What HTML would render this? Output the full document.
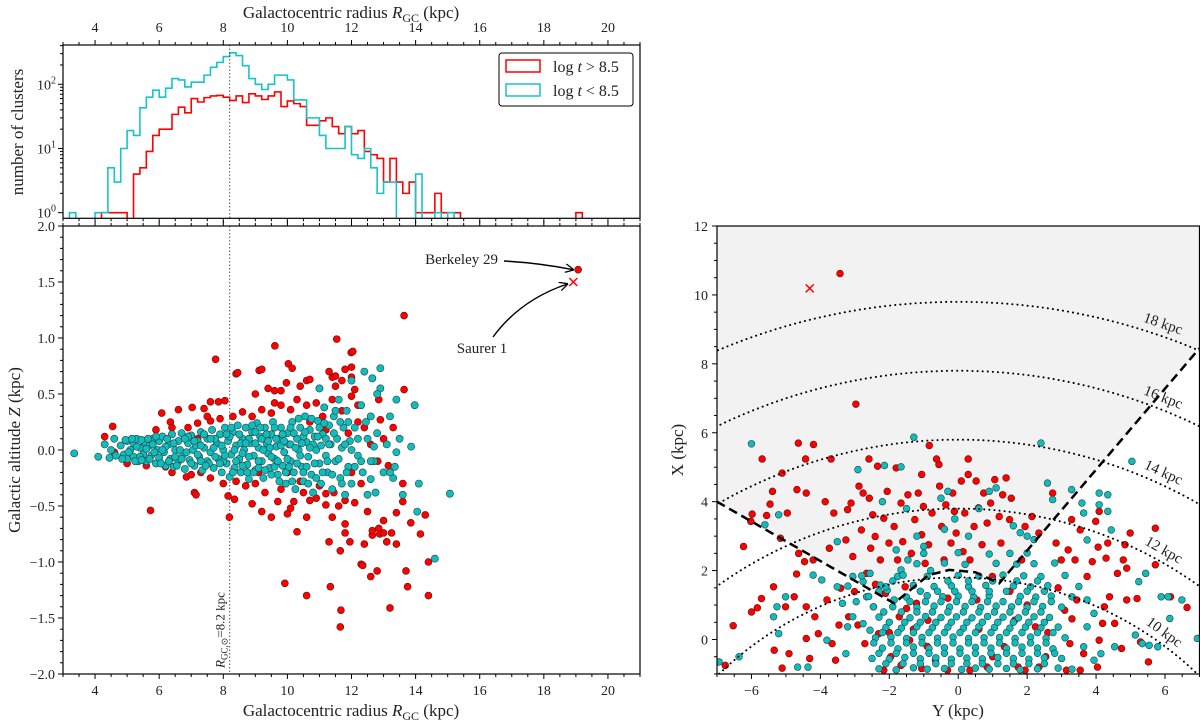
<!DOCTYPE html>
<html><head><meta charset="utf-8"><title>Open clusters</title>
<style>
html,body{margin:0;padding:0;background:#fff;}
svg{display:block;font-family:"Liberation Serif",serif;}
</style></head>
<body>
<svg id="fig" width="1200" height="722" viewBox="0 0 1200 722" xmlns="http://www.w3.org/2000/svg">
<defs>
<clipPath id="clipTop"><rect x="63" y="45" width="577" height="173.3"/></clipPath>
<clipPath id="clipLeft"><rect x="63" y="226" width="577" height="448"/></clipPath>
<clipPath id="clipRight"><rect x="717" y="226" width="482.5" height="448"/></clipPath>
<marker id="arrowHead" viewBox="0 0 10 10" refX="9" refY="5" markerWidth="9" markerHeight="9" orient="auto-start-reverse" markerUnits="userSpaceOnUse"><path d="M0,0 L10,5 L0,10" fill="none" stroke="#000" stroke-width="1.4"/></marker>
</defs>
</svg>
<script>
// ---------------- DATA ----------------
const binWidth = 0.2;
const redHistStart = 4.2;
const redHistCounts = [1,1,1,1,0,4,5,9,16,20,20,34,44,36,60,53,62,66,67,63,56,66,52,71,66,58,66,76,45,55,50,45,23,23,27,30,22,17,22,17,19,9,8,7,3,7,3,2,3,1,1,1,2,1,1,1,0,0,0,0,0,0,0,0,0,0,0,0,0,0,0,0,0,0,1];
const cyanHistStart = 3.2;
const cyanHistCounts = [1,0,0,0,1,1,5,3,10,19,16,43,63,81,63,87,123,117,91,108,108,139,184,219,270,309,280,195,123,100,83,100,139,139,117,57,57,30,30,16,10,10,10,22,8,7,10,5,2,3,3,0,0,0,4,0,0,1,0,1];
const rTicks = [4,6,8,10,12,14,16,18,20];
const zTicks = [2.0,1.5,1.0,0.5,0.0,-0.5,-1.0,-1.5,-2.0];
const countTicks = [1,10,100];
const rightYTicks = [-6,-4,-2,0,2,4,6];
const rightXTicks = [0,2,4,6,8,10,12];
const sunR = 8.2;
const arcRadii = [10,12,14,16,18];
const berkeley29 = [19.07,1.61];
const saurer1 = [18.92,1.50];
const saurer1XY = [-4.31,10.19];
const wedge = [[-7,4],[-1.86,1.05],[-0.86,1.87],[-0.26,2.02],[0.5,1.95],[1.19,1.63],[7,8.45]];

const leftRed = [[7.76,0.81],[9.61,0.93],[11.54,0.99],[8.4,0.68],[8.45,0.69],[9.12,0.71],[9.2,0.72],[10.03,0.77],[10.15,0.73],[11.99,0.87],[11.8,0.72],[12.0,0.74],[9.97,0.6],[10.6,0.62],[10.7,0.63],[10.4,0.57],[6.08,0.33],[6.6,0.36],[7.03,0.38],[4.55,0.21],[4.3,0.12],[9.0,0.5],[9.4,0.55],[9.6,0.53],[9.8,0.53],[11.0,0.55],[11.4,0.65],[11.5,0.66],[11.7,0.62],[12.1,0.54],[11.3,0.7],[7.4,0.37],[7.6,0.43],[7.85,0.43],[8.05,0.44],[6.35,0.25],[7.6,0.26],[13.64,1.2],[12.04,0.88],[12.0,0.65],[13.64,0.54],[11.5,0.57],[12.0,0.48],[12.85,0.45],[12.9,0.27],[12.82,-0.1],[13.15,-0.14],
[5.73,-0.54],[8.19,-0.6],[9.92,-1.19],[10.6,-1.3],[11.34,-1.22],[11.67,-1.43],[11.65,-1.58],[13.2,-1.41],[11.65,-0.9],[11.3,-0.82],[11.8,-0.66],[11.8,-0.74],[11.95,-0.82],[12.3,-1.02],[12.35,-1.03],[12.6,-1.13],[12.8,-1.08],[12.4,-0.84],[12.65,-0.76],[12.65,-0.72],[12.85,-0.7],[12.88,-0.75],[13.0,-0.63],[13.0,-0.74],[13.1,-0.82],[13.4,-0.56],[13.4,-0.84],[13.25,-0.74],[13.6,-0.46],[13.7,-1.08],[13.75,-1.22],[13.85,-0.65],[14.15,-0.75],[14.3,-0.58],[14.4,-1.3],[14.4,-1.0],[10.3,-0.73],[9.7,-0.46],[9.5,-0.6],[10.0,-0.57],[10.1,-0.52],[10.2,-0.46],[10.5,-0.38],[10.9,-0.43],[11.2,-0.49],[11.2,-0.39],[11.45,-0.38],[11.8,-0.45],[12.1,-0.47],[7.1,-0.38],[7.15,-0.4],[8.15,-0.41],[8.35,-0.44],[6.4,-0.2],[6.85,-0.24],[7.0,-0.22],
[6.9,0.2],[7.2,0.24],[7.9,0.28],[8.3,0.3],[8.6,0.34],[8.9,0.3],[9.2,0.36],[9.5,0.33],[9.8,0.4],[10.1,0.36],[10.3,0.45],[10.6,0.4],[10.9,0.42],[11.1,0.3],[11.4,0.45],[11.7,0.35],[12.2,0.4],[12.4,0.2],[12.6,0.05],[12.3,-0.3],[12.0,-0.2],[11.6,-0.5],[11.0,-0.32],[10.7,-0.45],[10.4,-0.28],[9.8,-0.35],[9.3,-0.38],[9.0,-0.3],[8.7,-0.32],[8.4,-0.28],[8.0,-0.3],[7.6,-0.25],[7.3,-0.2],[6.2,-0.15],[5.6,-0.14],[5.0,-0.12],[4.6,-0.02],[5.9,0.18],[6.4,0.2],[7.5,0.3],[13.3,0.2],[13.0,0.1],[13.6,-0.3],[12.5,-0.55],[10.0,-0.2],[9.1,-0.2],[10.7,0.25],[11.2,0.18],[11.9,0.15],[8.9,-0.48],[9.2,-0.55],[10.6,-0.6],[11.4,-0.6],[12.2,0.25],[7.2,0.1],[9.6,0.42],[19.07,1.61]];

const leftCyan = [[3.35,-0.03],[4.1,-0.06],[4.3,0.05],[4.45,-0.07],[4.6,0.1],[4.65,-0.05],[4.5,0.0],
[4.8,0.04],[4.9,-0.04],[5.0,0.08],[5.0,-0.08],[5.1,0.0],[5.2,0.06],[5.2,-0.06],[5.3,0.1],[5.35,-0.1],[5.4,0.02],[5.5,-0.04],[5.55,0.07],[5.6,-0.1],[5.7,0.04],[5.75,-0.05],[5.8,0.1],[5.9,-0.12],[5.95,0.0],[6.0,0.08],[6.0,-0.07],
[6.1,0.12],[6.15,-0.02],[6.2,-0.14],[6.3,0.05],[6.35,-0.08],[6.4,0.14],[6.45,-0.15],[6.5,0.0],[6.6,0.08],[6.6,-0.1],[6.7,0.15],[6.75,-0.04],[6.8,-0.17],[6.9,0.06],[6.95,-0.09],[7.0,0.13],[7.05,0.0],[7.1,-0.14],[7.2,0.08],[7.25,-0.06],[7.3,0.16],[7.35,-0.18],[7.4,0.02],[7.5,0.1],[7.5,-0.1],[7.6,-0.02],[7.65,0.18],[7.7,-0.16],[7.8,0.06],[7.85,-0.08],[7.9,0.14],[7.95,-0.2],[8.0,0.0],
[8.05,0.2],[8.1,-0.12],[8.15,0.08],[8.2,-0.24],[8.25,-0.04],[8.3,0.16],[8.35,-0.16],[8.4,0.04],[8.45,0.22],[8.5,-0.08],[8.55,-0.2],[8.6,0.1],[8.65,0.0],[8.7,0.2],[8.75,-0.13],[8.8,-0.26],[8.85,0.06],[8.9,0.16],[8.95,-0.05],[9.0,-0.18],[9.05,0.24],[9.1,0.02],[9.15,0.12],[9.2,-0.1],[9.25,-0.25],[9.3,0.2],[9.35,0.06],[9.4,-0.03],[9.45,-0.16],[9.5,0.14],[9.55,0.25],[9.6,-0.08],[9.65,0.03],[9.7,-0.22],[9.75,0.1],[9.8,0.2],[9.85,-0.14],[9.9,-0.02],[9.95,-0.3],[10.0,0.15],
[10.05,0.05],[10.1,-0.1],[10.15,0.25],[10.2,-0.2],[10.25,-0.35],[10.3,0.1],[10.35,0.0],[10.4,0.2],[10.45,-0.15],[10.5,-0.28],[10.55,0.3],[10.6,0.07],[10.65,-0.06],[10.7,0.18],[10.75,-0.22],[10.8,-0.38],[10.85,0.12],[10.9,0.0],[10.95,0.26],[11.0,-0.12],[11.05,-0.3],[11.1,0.14],[11.15,0.38],[11.2,-0.05],[11.25,-0.2],[11.3,0.22],[11.35,0.05],[11.4,-0.35],[11.45,0.3],[11.5,-0.1],[11.55,0.1],[11.6,0.45],[11.65,-0.25],[11.7,0.02],[11.75,0.2],[11.8,-0.4],[11.85,0.35],[11.9,-0.15],[11.95,0.08],[12.0,-0.3],
[12.1,0.2],[12.2,-0.05],[12.3,0.4],[12.35,-0.2],[12.5,0.1],[12.5,-0.4],[12.6,0.3],[12.7,-0.1],[12.8,0.15],[12.9,0.55],[13.0,-0.2],[13.1,0.05],[13.2,0.3],[13.3,-0.25],[13.4,0.45],[13.5,0.1],[13.6,-0.4],[13.4,-0.02],[12.0,0.62],[11.0,0.55],[12.75,-0.38],[13.35,-0.15],
[12.4,0.7],[12.9,0.73],[12.65,0.64],[13.97,0.4],[13.86,0.03],[12.7,0.03],[12.8,0.5],[14.1,-0.3],[14.05,-0.55],[14.6,-0.97],[15.07,-0.39],[12.6,-0.26],[13.2,-0.2],
[7.15,0.04],[7.55,-0.12],[7.75,0.1],[8.0,-0.1],[8.2,0.12],[8.4,-0.1],[8.6,-0.03],[8.8,0.1],[9.0,0.06],[9.2,0.1],[9.4,0.08],[9.6,-0.15],[9.8,0.04],[10.0,-0.08],[10.2,0.15],[10.4,-0.05],[10.6,-0.15],[10.8,0.05],[11.0,0.2],[11.2,0.1],[6.5,-0.06],[6.9,0.12],[7.3,-0.1],[5.4,-0.06],[5.8,0.05],[6.2,0.03],[9.1,-0.1],[9.5,-0.06],[10.1,0.05],[10.5,0.12],
[4.85,-0.08],[4.95,0.09],[5.05,-0.02],[5.15,0.1],[5.25,-0.1],[5.3,0.03],[5.45,0.09],[5.45,-0.09],[5.6,0.01],[5.65,0.1],[5.7,-0.08],[5.85,-0.02],[5.9,0.12],[6.05,-0.12],
[6.1,0.0],[6.25,0.1],[6.3,-0.1],[6.45,0.06],[6.55,-0.14],[6.65,0.0],[6.7,-0.08],[6.8,0.1],[6.85,-0.02],[7.0,-0.12],[7.1,0.08],[7.2,-0.04],[7.3,0.04],[7.4,0.14],[7.45,-0.14],[7.6,0.1],[7.7,0.02],[7.75,-0.06],[7.9,-0.12],[7.95,0.04],
[8.05,-0.05],[8.1,0.14],[8.25,0.2],[8.3,-0.2],[8.35,0.0],[8.5,0.14],[8.55,0.06],[8.6,-0.14],[8.7,0.06],[8.75,-0.2],[8.8,-0.06],[8.9,0.22],[8.95,-0.2],[9.0,0.16],[9.1,-0.16],[9.15,0.2],[9.25,0.0],[9.3,-0.18],[9.35,0.14],[9.45,0.02],[9.5,-0.22],[9.6,0.2],[9.65,0.1],[9.7,-0.1],[9.75,-0.28],[9.85,0.14],[9.9,0.08],[9.95,-0.2],
[10.05,-0.15],[10.1,0.2],[10.15,-0.28],[10.25,0.02],[10.3,-0.12],[10.35,0.28],[10.45,0.06],[10.5,-0.2],[10.55,0.16],[10.65,-0.3],[10.7,0.02],[10.75,0.28],[10.85,-0.12],[10.9,-0.25],[10.95,0.12],[11.05,0.04],[11.1,-0.2],[11.15,0.24],[11.25,-0.1],[11.3,0.05],[11.4,-0.22],[11.45,0.15],[11.5,0.35],[11.6,-0.08],[11.65,0.25],[11.7,-0.3],[11.8,0.05],[11.85,-0.2],[11.9,0.25],[12.0,0.0],[12.1,-0.15],[12.2,0.1],[12.3,-0.1],[12.45,0.25],[12.6,-0.1]];

// right panel: [Y, X] in kpc
const rightRed = [[-3.43,10.62],[-2.97,6.83],[-4.64,5.7],[-4.2,5.66],[-0.84,5.63],[-5.69,5.24],[-4.43,5.24],[-3.69,5.24],[-2.59,5.24],[-0.63,5.24],[0.29,5.24],
[-6.76,-0.75],[-6.53,0.4],[-6.23,2.7],[-5.98,3.64],[-6.02,3.43],[-6.0,0.8],[-5.83,0.92],[-5.71,1.19],[-5.56,3.6],[-5.46,3.93],[-5.39,4.3],[-5.36,1.53],[-5.34,-0.31],[-5.16,2.94],[-5.11,4.83],[-5.11,-0.83],[-5.01,0.95],[-4.96,3.67],[-4.91,-0.41],[-4.76,1.24],[-4.68,4.35],[-4.69,1.9],[-4.63,2.5],[-4.46,2.26],[-4.41,4.25],[-4.41,0.95],[-4.41,0.03],[-4.31,-0.55],[-4.21,2.31],[-4.16,0.66],[-4.06,0.17],[-3.86,4.0],[-3.81,1.15],[-3.74,2.65],[-3.66,-0.12],[-3.61,3.67],[-3.56,-0.6],[-3.46,0.42],[-3.41,1.49],[-3.26,2.89],[-3.21,3.77],[-3.18,0.66],[-3.11,3.96],[-3.06,2.41],[-3.01,1.39],[-2.91,0.42],[-2.88,4.45],[-2.81,3.18],[-2.76,4.25],[-2.71,-0.12],[-2.66,1.92],[-2.58,4.1],[-2.54,2.65],[-2.48,3.62],[-2.46,0.95],[-2.41,2.99],[-2.34,5.03],[-2.31,0.17],[-2.26,2.31],[-2.16,3.52],[-2.11,1.34],[-2.06,4.3],[-2.01,2.8],[-1.96,-0.5],[-1.86,3.28],[-1.8,4.98],[-1.76,2.31],[-1.71,0.66],[-1.66,3.96],[-1.61,2.84],[-1.54,1.53],[-1.46,4.2],[-1.41,-0.02],[-1.36,2.5],[-1.26,3.48],[-1.21,1.05],[-1.16,4.25],[-1.06,4.79],[-1.06,3.04],[-1.01,3.86],[-0.96,2.21],[-0.88,0.56],[-0.86,2.75],[-0.76,3.67],[-0.66,-0.6],[-0.56,5.08],[-0.54,4.45],[-0.48,3.28],[-0.41,2.31],[-0.36,3.91],[-0.31,-0.89],[-0.21,2.8],[-0.16,4.25],[-0.11,3.72],[-0.06,3.09],[0.09,4.6],[0.14,2.55],[0.19,3.67],[0.29,4.79],[0.34,2.31],[0.46,3.28],[0.52,4.6],[0.54,1.15],[0.59,3.82],[0.69,2.75],[0.74,4.25],[0.84,3.38],[0.94,3.96],[0.99,1.83],[1.06,4.64],[1.19,3.57],[1.24,2.8],[1.29,4.2],[1.34,-0.21],[1.39,4.69],[1.49,3.48],[1.54,4.1],[1.64,0.56],[1.74,-0.8],[1.84,2.31],[1.94,3.28],[2.14,3.57],[2.24,0.37],[2.34,3.09],[2.54,-0.5],[2.74,4.25],[2.84,2.8],[2.99,2.31],[3.09,0.85],[3.19,2.6],[3.24,-0.12],[3.29,3.48],[3.39,2.31],[3.44,1.15],[3.54,3.18],[3.64,-0.41],[3.74,1.83],[3.89,2.26],[3.99,3.43],[4.04,-0.8],[4.06,2.68],[4.09,3.72],[4.19,0.47],[4.24,0.95],[4.29,2.36],[4.34,2.8],[4.39,1.24],[4.54,0.47],[4.62,1.92],[4.74,-0.26],[4.79,2.31],[4.84,2.75],[4.89,2.07],[4.99,3.09],[4.89,1.15],[5.19,1.19],[5.29,-0.07],[5.52,-0.65],[5.72,3.23],[5.72,2.17],[6.16,1.24],[6.64,0.93],[4.09,-0.02],
[-2.16,-0.89],[-1.66,-0.75],[-1.06,-0.84],[0.34,-0.89],[0.84,-0.8],[1.94,-0.89],[2.34,-0.8],[3.14,-0.89],[3.54,-0.89],[-1.3,0.3],[-0.9,-0.2],[-2.0,0.2],[-1.5,0.9],[2.0,1.0],[2.6,0.2],[1.0,-0.5],[-0.3,1.2],[0.6,0.3],[1.5,1.4],[-2.4,1.6],[2.9,1.5],[3.3,0.6]];

const rightCyan = [[-6.0,5.68],[-1.29,5.87],[2.4,5.7],
[-2.91,4.93],[-2.14,5.05],[-1.66,5.01],[-5.61,3.33],[-5.21,3.62],[-3.51,2.84],[-6.94,-0.65],[-6.36,-0.5],[-5.36,0.66],[-5.26,0.95],[-5.01,1.24],[-5.21,0.17],[-4.66,-0.8],[-4.36,-0.8],[-4.21,1.87],[-3.96,1.73],[-3.81,-0.02],[-3.51,1.53],[-3.36,1.05],[-3.26,-0.41],[2.59,4.54],[2.74,4.06],[3.29,4.35],[3.59,3.96],[3.64,3.67],[3.74,2.89],[4.09,4.25],[4.34,4.2],[4.34,3.72],[4.44,3.18],[4.09,3.91],[5.04,5.17],[5.24,1.68],[5.44,1.92],[5.14,0.13],[5.34,-0.12],[5.54,-0.17],[5.79,-0.21],[5.89,1.24],[6.09,1.24],[6.14,0.61],[6.49,1.15],[6.94,0.03],[3.74,1.15],[3.94,0.76],[3.74,0.37],[3.64,-0.21],[3.94,-0.6],[4.14,-0.41],[4.54,-0.21],
[-3.06,1.83],[-2.76,1.68],[-2.56,1.92],[-2.26,1.58],[-2.06,1.43],[-2.66,1.24],[-2.96,1.1],[-2.46,0.95],[-2.16,0.8],[-3.06,0.66],[-2.76,0.46],[-3.21,0.37],[-2.56,0.27],[-1.86,1.15],[-1.66,2.02],[-1.46,2.31],[-1.76,1.83],
[-2.3,-0.85],[-1.8,-0.88],[-1.3,-0.82],[-0.9,-0.86],[-0.4,-0.84],[0.1,-0.87],[0.5,-0.83],[0.9,-0.86],[1.4,-0.84],[1.8,-0.88],[2.3,-0.85],[2.9,-0.83],[3.3,-0.86],
[-2.5,-0.55],[-2.0,-0.57],[-1.55,-0.52],[-1.1,-0.56],[-0.65,-0.53],[-0.2,-0.57],[0.25,-0.54],[0.7,-0.56],[1.15,-0.52],[1.6,-0.55],[2.05,-0.57],[2.5,-0.53],[3.0,-0.55],
[-2.2,-0.25],[-1.75,-0.27],[-1.3,-0.22],[-0.85,-0.26],[-0.4,-0.24],[0.05,-0.27],[0.5,-0.23],[0.95,-0.25],[1.4,-0.26],[1.85,-0.22],[2.3,-0.25],[2.75,-0.27],
[-2.4,0.05],[-1.95,0.07],[-1.5,0.03],[-1.05,0.06],[-0.6,0.04],[-0.15,0.07],[0.3,0.03],[0.75,0.05],[1.2,0.06],[1.65,0.03],[2.1,0.07],[2.55,0.04],[3.1,0.05],
[-2.1,0.35],[-1.65,0.33],[-1.2,0.37],[-0.75,0.34],[-0.3,0.36],[0.15,0.33],[0.6,0.37],[1.05,0.35],[1.5,0.33],[1.95,0.36],[2.4,0.34],[2.9,0.36],
[-2.3,0.65],[-1.4,0.63],[-0.95,0.67],[-0.5,0.64],[-0.05,0.66],[0.4,0.63],[0.85,0.67],[1.3,0.65],[1.75,0.63],[2.2,0.66],[2.65,0.64],
[-1.9,0.95],[-1.2,0.93],[-0.7,0.97],[-0.25,0.94],[0.2,0.96],[0.65,0.93],[1.1,0.97],[1.55,0.95],[2.0,0.93],[2.45,0.96],[3.0,0.94],
[-2.6,1.25],[-1.5,1.23],[-0.9,1.27],[-0.45,1.24],[0.0,1.26],[0.45,1.23],[0.9,1.27],[1.8,1.25],[2.25,1.23],[2.7,1.26],[3.3,1.24],
[-3.2,1.55],[-2.1,1.53],[-1.3,1.57],[-0.7,1.54],[-0.2,1.56],[0.3,1.53],[0.8,1.57],[1.6,1.55],[2.1,1.53],[2.6,1.56],[3.5,1.54],
[-2.8,1.85],[-1.6,1.87],[-0.9,1.83],[0.0,1.86],[0.6,1.84],[1.3,1.87],[1.9,1.85],[2.4,1.83],[3.1,1.86],
[-1.2,2.2],[-0.4,2.22],[0.2,2.18],[1.1,2.21],[1.7,2.19],[2.2,2.2],[2.8,2.22],
[-1.0,2.5],[0.0,2.52],[0.9,2.48],[1.5,2.5],[2.0,2.51],
[-0.4,3.2],[-0.1,3.5],[0.3,3.0],[-0.5,4.1],[-0.3,4.3],[0.6,3.8],[0.9,4.3],[1.1,4.4],[1.6,3.3],[1.8,3.1],[2.0,3.0],[2.2,2.9],[-1.2,3.0],[-1.5,3.8],[-2.2,4.0],[-1.8,2.6],[-1.0,2.7],[-0.8,2.0]];

// extra dense-core young clusters, rows: [X, list of Y]
const rightCyanCoreRows = [
[-0.7,[-2.1,-1.6,-1.1,-0.65,-0.2,0.25,0.7,1.15,1.6,2.05,2.5]],
[-0.4,[-2.3,-1.8,-1.3,-0.85,-0.4,0.05,0.5,0.95,1.4,1.85,2.3,2.8]],
[-0.1,[-2.45,-1.95,-1.5,-1.05,-0.6,-0.15,0.3,0.75,1.2,1.65,2.1,2.55]],
[0.2,[-2.2,-1.75,-1.3,-0.85,-0.4,0.05,0.5,0.95,1.4,1.85,2.3,2.75]],
[0.5,[-2.0,-1.55,-1.1,-0.65,-0.2,0.25,0.7,1.15,1.6,2.05,2.5]],
[0.8,[-1.65,-1.2,-0.75,-0.3,0.15,0.6,1.05,1.5,1.95,2.4]],
[1.1,[-1.4,-0.95,-0.5,-0.05,0.4,0.85,1.3,1.75,2.2,2.7]],
[1.4,[-2.3,-1.1,-0.6,-0.1,0.4,0.9,1.4,2.0,2.5]],
[1.7,[-1.9,-0.3,0.3,1.0,1.7,2.3]]];

// ---------------- HELPERS ----------------
const svg = document.getElementById('fig');
const NS = 'http://www.w3.org/2000/svg';
function mk(tag, attrs, parent){
  const e = document.createElementNS(NS, tag);
  for (const k in attrs) e.setAttribute(k, attrs[k]);
  (parent || svg).appendChild(e);
  return e;
}
const rX = r => 63 + (r - 3) * (577 / 18);
const zY = z => 226 + (2 - z) * 112;
const cY = c => 212.7 - Math.log10(c) * 64.2;
const yPx = y => 717 + (y + 7) * 34.46;
const xPx = x => 226 + (12 - x) * 34.46;
const RED = '#ff0000', CYAN = '#12bcbc', HCYAN = '#17c4c8';

// ---------------- TOP HISTOGRAM PANEL ----------------
const gTop = mk('g', {});



function histPath(start, counts){
  const bottom = 230;
  let d = 'M' + rX(start).toFixed(2) + ',' + bottom;
  counts.forEach((c, i) => {
    const x0 = rX(start + i * binWidth), x1 = rX(start + (i + 1) * binWidth);
    const y = c > 0 ? cY(c) : bottom;
    d += ' L' + x0.toFixed(2) + ',' + y.toFixed(2) + ' L' + x1.toFixed(2) + ',' + y.toFixed(2);
  });
  d += ' L' + rX(start + counts.length * binWidth).toFixed(2) + ',' + bottom;
  return d;
}
const histClip = mk('g', {'clip-path': 'url(#clipTop)'}, gTop);
const redHist = mk('path', {d: histPath(redHistStart, redHistCounts), fill: 'none', stroke: RED, 'stroke-width': 1.6}, histClip);


const cyanHist = mk('path', {d: histPath(cyanHistStart, cyanHistCounts), fill: 'none', stroke: HCYAN, 'stroke-width': 1.6}, histClip);


const sunTop = mk('line', {x1: rX(sunR), x2: rX(sunR), y1: 45, y2: 218.3, stroke: '#555', 'stroke-width': 1, 'stroke-dasharray': '1.5 2'}, gTop);


const frameTop = mk('rect', {x: 63, y: 45, width: 577, height: 173.3, fill: 'none', stroke: '#000', 'stroke-width': 1.2}, gTop);



function rTickRow(yLine, dir, labels, labelY, parent){
  for (let v = 3; v <= 21.001; v += 0.5){
    const major = Math.abs(v / 2 - Math.round(v / 2)) < 1e-6;
    mk('line', {x1: rX(v), x2: rX(v), y1: yLine, y2: yLine + dir * (major ? 5 : 3), stroke: '#000', 'stroke-width': 1}, parent);
  }
  if (labels){
    rTicks.forEach(t => {
      const tx = mk('text', {x: rX(t), y: labelY, 'text-anchor': 'middle', 'font-size': 14, fill: '#222'}, parent);
      tx.textContent = t;
      
      
    });
  }
}
rTickRow(45, -1, true, 32, gTop);
rTickRow(218.3, 1, false, 0, gTop);

for (let dec = 0; dec <= 2; dec++){
  for (let m = 1; m <= 9; m++){
    const v = m * Math.pow(10, dec);
    const y = cY(v);
    if (y < 45) continue;
    mk('line', {x1: 63, x2: 63 - (m === 1 ? 5 : 3), y1: y, y2: y, stroke: '#000', 'stroke-width': 1}, gTop);
  }
}
countTicks.forEach(c => {
  const t = mk('text', {x: 56, y: cY(c) + 5, 'text-anchor': 'end', 'font-size': 14, fill: '#222'}, gTop);
  t.innerHTML = '10<tspan font-size="10" dy="-6">' + Math.round(Math.log10(c)) + '</tspan>';
  
  
});
const topTitle = mk('text', {x: 351, y: 18, 'text-anchor': 'middle', 'font-size': 17, fill: '#222'}, gTop);
topTitle.innerHTML = 'Galactocentric radius <tspan font-style="italic">R</tspan><tspan font-size="12" dy="4">GC</tspan><tspan dy="-4"> (kpc)</tspan>';


const countTitle = mk('text', {x: 0, y: 0, 'text-anchor': 'middle', 'font-size': 17, fill: '#222', transform: 'translate(23,132) rotate(-90)'}, gTop);
countTitle.textContent = 'number of clusters';



const legend = mk('g', {}, gTop);


mk('rect', {x: 499, y: 53, width: 134, height: 53, rx: 3, fill: '#fff', stroke: '#000', 'stroke-width': 1}, legend);
const legRed = mk('rect', {x: 506, y: 60, width: 34, height: 12, fill: 'none', stroke: RED, 'stroke-width': 1.5}, legend);


const legRedT = mk('text', {x: 553, y: 72, 'font-size': 16, fill: '#222'}, legend);
legRedT.innerHTML = 'log <tspan font-style="italic">t</tspan> &gt; 8.5';


const legCy = mk('rect', {x: 506, y: 84, width: 34, height: 12, fill: 'none', stroke: HCYAN, 'stroke-width': 1.5}, legend);


const legCyT = mk('text', {x: 553, y: 96, 'font-size': 16, fill: '#222'}, legend);
legCyT.innerHTML = 'log <tspan font-style="italic">t</tspan> &lt; 8.5';



// ---------------- LEFT SCATTER PANEL ----------------
const gLeft = mk('g', {});


const sunLeft = mk('line', {x1: rX(sunR), x2: rX(sunR), y1: 226, y2: 674, stroke: '#555', 'stroke-width': 1, 'stroke-dasharray': '1.5 2'}, gLeft);


const leftPts = mk('g', {'clip-path': 'url(#clipLeft)'}, gLeft);
leftRed.forEach(p => {
  const c = mk('circle', {cx: rX(p[0]), cy: zY(p[1]), r: 3.5, fill: RED, stroke: '#5a1010', 'stroke-width': 0.6}, leftPts);
  
  
});
leftCyan.forEach(p => {
  const c = mk('circle', {cx: rX(p[0]), cy: zY(p[1]), r: 3.6, fill: CYAN, stroke: '#1d4444', 'stroke-width': 0.6}, leftPts);
  
  
});
const sx = rX(saurer1[0]), sy = zY(saurer1[1]);
const cross1 = mk('path', {d: `M${sx-4},${sy-4} L${sx+4},${sy+4} M${sx-4},${sy+4} L${sx+4},${sy-4}`, stroke: RED, 'stroke-width': 1.5, fill: 'none'}, gLeft);


const bx = rX(berkeley29[0]), by = zY(berkeley29[1]);
const bText = mk('text', {x: 498, y: 264, 'text-anchor': 'end', 'font-size': 15, fill: '#222'}, gLeft);
bText.textContent = 'Berkeley 29';


const bArrow = mk('path', {d: `M504,261 Q540,263 ${bx-5},${by}`, fill: 'none', stroke: '#000', 'stroke-width': 1.4, 'marker-end': 'url(#arrowHead)'}, gLeft);


const sText = mk('text', {x: 482, y: 353, 'text-anchor': 'middle', 'font-size': 15, fill: '#222'}, gLeft);
sText.textContent = 'Saurer 1';


const sArrow = mk('path', {d: `M493,337 Q520,300 ${sx-6},${sy+2}`, fill: 'none', stroke: '#000', 'stroke-width': 1.4, 'marker-end': 'url(#arrowHead)'}, gLeft);


const sunLab = mk('text', {x: 0, y: 0, 'font-size': 13, fill: '#222', transform: `translate(${rX(sunR)-5},668) rotate(-90)`}, gLeft);
sunLab.innerHTML = '<tspan font-style="italic">R</tspan><tspan font-size="9" dy="3">GC,⊙</tspan><tspan dy="-3">=8.2 kpc</tspan>';


const frameLeft = mk('rect', {x: 63, y: 226, width: 577, height: 448, fill: 'none', stroke: '#000', 'stroke-width': 1.2}, gLeft);


rTickRow(226, -1, false, 0, gLeft);
rTickRow(674, 1, true, 695, gLeft);
for (let v = -2; v <= 2.001; v += 0.1){
  const major = Math.abs(v * 2 - Math.round(v * 2)) < 1e-6;
  mk('line', {x1: 63, x2: 63 - (major ? 5 : 3), y1: zY(v), y2: zY(v), stroke: '#000', 'stroke-width': 1}, gLeft);
}
zTicks.forEach(z => {
  const t = mk('text', {x: 55, y: zY(z) + 5, 'text-anchor': 'end', 'font-size': 14, fill: '#222'}, gLeft);
  t.textContent = (z < 0 ? '\u2212' : '') + Math.abs(z).toFixed(1);
  
  
});
const leftXTitle = mk('text', {x: 351, y: 716, 'text-anchor': 'middle', 'font-size': 17, fill: '#222'}, gLeft);
leftXTitle.innerHTML = 'Galactocentric radius <tspan font-style="italic">R</tspan><tspan font-size="12" dy="4">GC</tspan><tspan dy="-4"> (kpc)</tspan>';


const zTitle = mk('text', {x: 0, y: 0, 'text-anchor': 'middle', 'font-size': 17, fill: '#222', transform: 'translate(20,450) rotate(-90)'}, gLeft);
zTitle.innerHTML = 'Galactic altitude <tspan font-style="italic">Z</tspan> (kpc)';



// ---------------- RIGHT MAP PANEL ----------------
const gRight = mk('g', {});


const rClip = mk('g', {'clip-path': 'url(#clipRight)'}, gRight);
const shadePts = wedge.map(p => yPx(p[0]).toFixed(1) + ',' + xPx(p[1]).toFixed(1));
shadePts.push(yPx(7) + ',' + xPx(12), yPx(-7) + ',' + xPx(12));
const shade = mk('polygon', {points: shadePts.join(' '), fill: '#f2f2f2'}, rClip);


rightRed.forEach(p => {
  const c = mk('circle', {cx: yPx(p[0]), cy: xPx(p[1]), r: 3.4, fill: RED, stroke: '#5a1010', 'stroke-width': 0.6}, rClip);
  
  
});
const allRightCyan = rightCyan.slice();
rightCyanCoreRows.forEach(row => row[1].forEach(y => allRightCyan.push([y, row[0]])));
allRightCyan.forEach(p => {
  const c = mk('circle', {cx: yPx(p[0]), cy: xPx(p[1]), r: 3.4, fill: CYAN, stroke: '#1d4444', 'stroke-width': 0.6}, rClip);
  
  
});
arcRadii.forEach(R => {
  let d = '';
  for (let a = -60; a <= 60; a += 1){
    const t = a * Math.PI / 180;
    const Y = R * Math.sin(t), X = R * Math.cos(t) - sunR;
    d += (d ? ' L' : 'M') + yPx(Y).toFixed(1) + ',' + xPx(X).toFixed(1);
  }
  const arc = mk('path', {d: d, fill: 'none', stroke: '#000', 'stroke-width': 2, 'stroke-dasharray': '0.1 5', 'stroke-linecap': 'round'}, rClip);
  
  
  const Yl = 5.9, Xl = Math.sqrt(R * R - Yl * Yl) - sunR;
  const ang = Math.atan(Yl / (Xl + sunR)) * 180 / Math.PI;
  const lab = mk('text', {x: 0, y: 0, 'text-anchor': 'middle', 'font-size': 15, fill: '#222', transform: `translate(${yPx(Yl)},${xPx(Xl) - 8}) rotate(${ang.toFixed(1)})`}, gRight);
  lab.textContent = R + ' kpc';
  
  
});
const wedgeLine = mk('polyline', {points: wedge.map(p => yPx(p[0]).toFixed(1) + ',' + xPx(p[1]).toFixed(1)).join(' '), fill: 'none', stroke: '#000', 'stroke-width': 2.5, 'stroke-dasharray': '9 5'}, rClip);


const cx2 = yPx(saurer1XY[0]), cy2 = xPx(saurer1XY[1]);
const cross2 = mk('path', {d: `M${cx2-4},${cy2-4} L${cx2+4},${cy2+4} M${cx2-4},${cy2+4} L${cx2+4},${cy2-4}`, stroke: RED, 'stroke-width': 1.5, fill: 'none'}, gRight);


const frameRight = mk('rect', {x: 717, y: 226, width: 482.5, height: 448, fill: 'none', stroke: '#000', 'stroke-width': 1.2}, gRight);


for (let v = -7; v <= 7.001; v += 0.5){
  const major = Math.abs(v / 2 - Math.round(v / 2)) < 1e-6;
  mk('line', {x1: yPx(v), x2: yPx(v), y1: 674, y2: 674 + (major ? 5 : 3), stroke: '#000', 'stroke-width': 1}, gRight);
}
for (let v = -1; v <= 12.001; v += 0.5){
  const major = Math.abs(v / 2 - Math.round(v / 2)) < 1e-6;
  mk('line', {x1: 717, x2: 717 - (major ? 5 : 3), y1: xPx(v), y2: xPx(v), stroke: '#000', 'stroke-width': 1}, gRight);
}
rightYTicks.forEach(v => {
  const t = mk('text', {x: yPx(v), y: 695, 'text-anchor': 'middle', 'font-size': 14, fill: '#222'}, gRight);
  t.textContent = (v < 0 ? '\u2212' : '') + Math.abs(v);
  
  
});
rightXTicks.forEach(v => {
  const t = mk('text', {x: 708, y: xPx(v) + 5, 'text-anchor': 'end', 'font-size': 14, fill: '#222'}, gRight);
  t.textContent = v;
  
  
});
const yTitle = mk('text', {x: 958, y: 716, 'text-anchor': 'middle', 'font-size': 17, fill: '#222'}, gRight);
yTitle.textContent = 'Y (kpc)';


const xTitle = mk('text', {x: 0, y: 0, 'text-anchor': 'middle', 'font-size': 17, fill: '#222', transform: 'translate(683,450) rotate(-90)'}, gRight);
xTitle.textContent = 'X (kpc)';


</script>
</body></html>
